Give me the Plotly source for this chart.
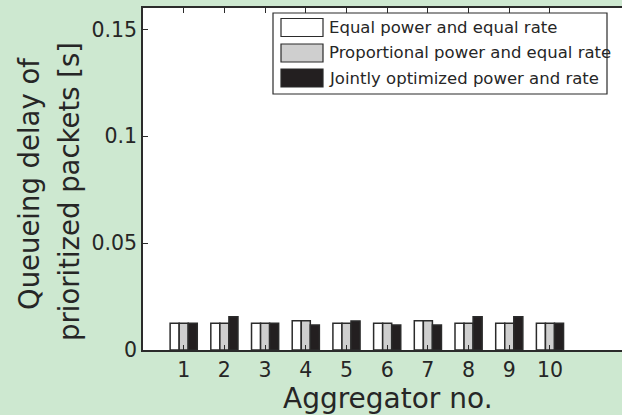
import plotly.graph_objects as go

# Data: queueing delay of prioritized packets per aggregator (seconds)
aggregators = [1, 2, 3, 4, 5, 6, 7, 8, 9, 10]
equal_power_equal_rate = [0.0125, 0.0125, 0.0125, 0.0137, 0.0125, 0.0125, 0.0137, 0.0125, 0.0125, 0.0125]
prop_power_equal_rate = [0.0125, 0.0125, 0.0125, 0.0137, 0.0125, 0.0125, 0.0137, 0.0125, 0.0125, 0.0125]
joint_opt_power_rate = [0.0125, 0.0155, 0.0125, 0.0117, 0.0136, 0.0117, 0.0117, 0.0155, 0.0155, 0.0125]

series_names = [
    "Equal power and equal rate",
    "Proportional power and equal rate",
    "Jointly optimized power and rate",
]
y_ticks = [0, 0.05, 0.1, 0.15]
y_tick_text = ["0", "0.05", "0.1", "0.15"]

W, H = 622, 415
L, R, T, B = 143, 0, 8, 65
PW, PH = W - L - R, H - T - B

FONT = "DejaVu Sans"
TXT = "#262626"
EDGE = "#2b2b2b"
fills = ["#ffffff", "#cfcfcf", "#231f20"]
series = [equal_power_equal_rate, prop_power_equal_rate, joint_opt_power_rate]


def px_x(px):
    return (px - L) / PW


def px_y(py):
    return (H - B - py) / PH


fig = go.Figure()
for name, vals, col in zip(series_names, series, fills):
    fig.add_trace(go.Bar(
        x=aggregators, y=vals, name=name,
        marker=dict(color=col, line=dict(color=EDGE, width=1.5)),
        showlegend=False,
    ))

# Legend box drawn as shapes so the swatches can be wide rectangles
shapes = [dict(type="rect", xref="paper", yref="paper",
               x0=px_x(273), x1=px_x(607), y0=px_y(94), y1=px_y(13),
               fillcolor="white", line=dict(color=EDGE, width=1.2), layer="above")]
annotations = []
row_centers = [27.5, 53, 78]
for name, col, cy in zip(series_names, fills, row_centers):
    shapes.append(dict(type="rect", xref="paper", yref="paper",
                       x0=px_x(281), x1=px_x(323), y0=px_y(cy + 9), y1=px_y(cy - 9),
                       fillcolor=col, line=dict(color=EDGE, width=1.2), layer="above"))
    annotations.append(dict(xref="paper", yref="paper", x=px_x(327), y=px_y(cy),
                            xanchor="left", yanchor="middle", showarrow=False,
                            text=name, font=dict(family=FONT, size=16.5, color=TXT)))

# Axis titles
annotations.append(dict(xref="paper", yref="paper", x=px_x(388), y=px_y(398),
                        xanchor="center", yanchor="middle", showarrow=False,
                        text="Aggregator no.", font=dict(family=FONT, size=28, color=TXT)))
annotations.append(dict(xref="paper", yref="paper", x=px_x(29), y=px_y(184),
                        xanchor="center", yanchor="middle", showarrow=False, textangle=-90,
                        text="Queueing delay of", font=dict(family=FONT, size=27.5, color=TXT)))
annotations.append(dict(xref="paper", yref="paper", x=px_x(69), y=px_y(192),
                        xanchor="center", yanchor="middle", showarrow=False, textangle=-90,
                        text="prioritized packets [s]", font=dict(family=FONT, size=27.5, color=TXT)))

fig.update_layout(
    width=W, height=H,
    margin=dict(l=L, r=R, t=T, b=B, pad=0),
    paper_bgcolor="#cde8d0",
    plot_bgcolor="white",
    barmode="group",
    bargap=0.333,
    bargroupgap=0,
    shapes=shapes,
    annotations=annotations,
    font=dict(family=FONT, color=TXT),
)
fig.update_xaxes(
    range=[0, 11.77], tickmode="array", tickvals=aggregators,
    ticktext=[str(a) for a in aggregators],
    ticks="inside", ticklen=5, tickcolor=EDGE, tickwidth=1.2,
    showline=True, linecolor=EDGE, linewidth=1.5, mirror="ticks",
    showgrid=False, zeroline=False,
    tickfont=dict(family=FONT, size=20.5, color=TXT), ticklabelstandoff=1,
)
fig.update_yaxes(
    range=[0, 0.16], tickmode="array", tickvals=y_ticks, ticktext=y_tick_text,
    ticks="inside", ticklen=5, tickcolor=EDGE, tickwidth=1.2,
    showline=True, linecolor=EDGE, linewidth=1.5, mirror=False,
    showgrid=False, zeroline=False,
    tickfont=dict(family=FONT, size=20.5, color=TXT),
)

fig.write_html("out.html")
